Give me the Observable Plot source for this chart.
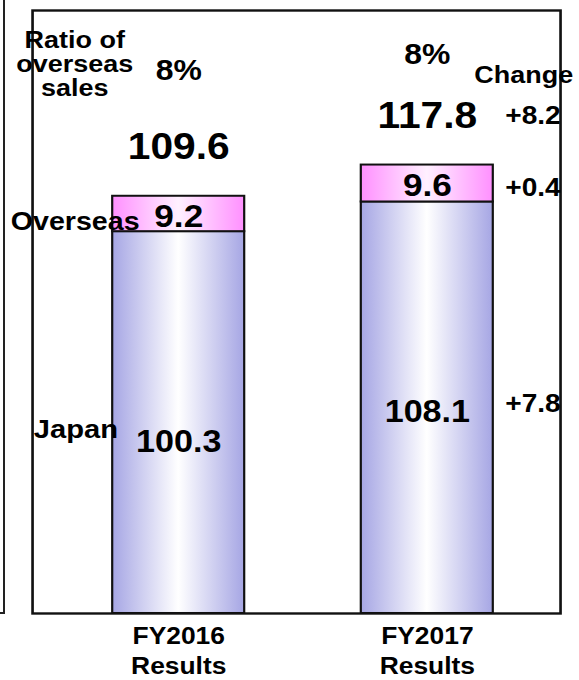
<!DOCTYPE html>
<html>
<head>
<meta charset="utf-8">
<script src="https://cdn.jsdelivr.net/npm/d3@7"></script>
<script src="https://cdn.jsdelivr.net/npm/@observablehq/plot@0.6"></script>
<style>
  body { margin: 0; background: #fff; }
  #wrap { position: relative; width: 579px; height: 680px; overflow: hidden; }
  #edge { position: absolute; left: 0; top: 0; width: 3px; height: 612px;
          border-right: 2px solid #222; border-bottom: 2px solid #222; }
  #chart { position: absolute; left: 0; top: 0; }
  #chart svg { transform: scaleX(1.1); transform-origin: 0 0; }
</style>
</head>
<body>
<div id="wrap"><div id="edge"></div><div id="chart"></div></div>
<script>
const categories = ["FY2016\nResults", "FY2017\nResults"];
const japan = [100.3, 108.1];
const overseas = [9.2, 9.6];
const totals = [109.6, 117.8];
const ratios = ["8%", "8%"];
const changeLabels = ["+7.8", "+0.4", "+8.2"]; // Japan, Overseas, Total

const rows = categories.map((cat, i) => ({
  cat, japan: japan[i], overseas: overseas[i], total: totals[i], ratio: ratios[i]
}));
const r16 = rows.filter((d, i) => i === 0);
const r17 = rows.filter((d, i) => i === 1);

const S = 1.1; // horizontal stretch of the original slide
const FONT = "'Liberation Sans', Arial, Helvetica, sans-serif";
const txt = (data, opts) => Plot.text(data, {
  x: "cat", fontWeight: "bold", fontFamily: FONT, fill: "#000",
  lineAnchor: "bottom", ...opts, dx: (opts.dx || 0) / S
});

const defs = () => {
  const d = d3.create("svg:defs");
  const add = (id, edge, mid) => {
    const g = d.append("linearGradient").attr("id", id)
      .attr("x1", "0").attr("x2", "1").attr("y1", "0").attr("y2", "0");
    [[0, edge], [0.5, mid], [1, edge]].forEach(([o, c]) =>
      g.append("stop").attr("offset", o).attr("stop-color", c));
  };
  add("gradJapan", "#a6a6e4", "#ffffff");
  add("gradOverseas", "#ff90ff", "#fff0ff");
  return d.node();
};

const chart = Plot.plot({
  width: 579 / S,
  height: 680,
  marginTop: 10,
  marginBottom: 67,
  marginLeft: 32 / S,
  marginRight: 19 / S,
  style: { fontFamily: FONT, fontWeight: "bold", background: "transparent", color: "#000" },
  x: { type: "band", domain: categories, paddingInner: 0.47, paddingOuter: 0.295, align: 0.544, axis: null },
  y: { domain: [0, 158.4], axis: null },
  marks: [
    defs,
    Plot.barY(rows, { x: "cat", y1: 0, y2: "japan", fill: "url(#gradJapan)", stroke: "#111", strokeWidth: 2 }),
    Plot.barY(rows, { x: "cat", y1: "japan", y2: "total", fill: "url(#gradOverseas)", stroke: "#111", strokeWidth: 2 }),
    Plot.frame({ stroke: "#111", strokeWidth: 2.4 }),
    Plot.axisX({ tickSize: 0, tickPadding: 10, fontSize: 24, fontWeight: "bold", lineHeight: 1.22, label: null }),
    // totals
    txt(rows, { y: "total", text: d => d.total.toFixed(1), dy: -37, fontSize: 37 }),
    // ratio of overseas sales
    txt(r16, { y: "total", text: "ratio", dy: -116, fontSize: 29 }),
    txt(r17, { y: "total", text: "ratio", dy: -101, fontSize: 29 }),
    // overseas values
    txt(rows, { y: "total", text: d => d.overseas.toFixed(1), dy: 31, fontSize: 32 }),
    // japan values
    txt(r16, { y: 0, text: d => d.japan.toFixed(1), dy: -161, fontSize: 31 }),
    txt(r17, { y: 0, text: d => d.japan.toFixed(1), dy: -191, fontSize: 31 }),
    // row labels
    txt(r16, { y: "total", text: () => "Ratio of\noverseas\nsales", dx: -104, dy: -100, fontSize: 24.5, lineHeight: 0.98 }),
    txt(r16, { y: "total", text: () => "Overseas", dx: -168, dy: 34, fontSize: 26, textAnchor: "start" }),
    txt(r16, { y: 0, text: () => "Japan", dx: -145, dy: -175, fontSize: 26.5, textAnchor: "start" }),
    // change column
    txt(r17, { y: "total", text: () => "Change", dx: 47, dy: -82, fontSize: 24.5, textAnchor: "start" }),
    txt(r17, { y: "total", text: () => changeLabels[2], dx: 78, dy: -41, fontSize: 25.5, textAnchor: "start" }),
    txt(r17, { y: "total", text: () => changeLabels[1], dx: 78, dy: 31, fontSize: 25.5, textAnchor: "start" }),
    txt(r17, { y: 0, text: () => changeLabels[0], dx: 78, dy: -201, fontSize: 25.5, textAnchor: "start" })
  ]
});
document.getElementById("chart").appendChild(chart);
</script>
</body>
</html>
